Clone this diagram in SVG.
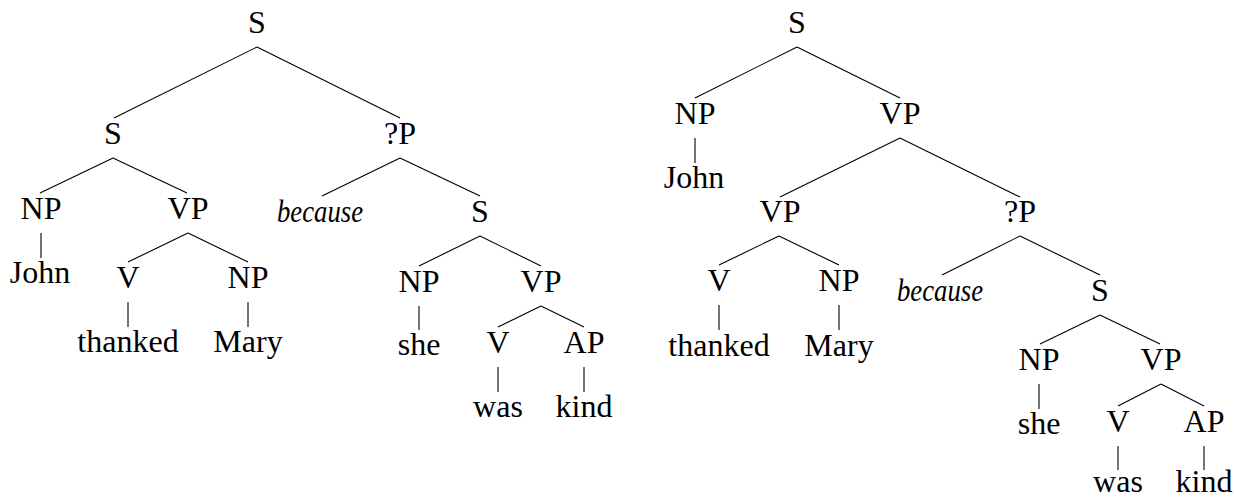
<svg xmlns="http://www.w3.org/2000/svg" width="1234" height="498" viewBox="0 0 1234 498">
  <style>
    text { font-family: "Liberation Serif", "Times New Roman", serif; font-size: 32px; fill: #000; text-anchor: middle; }
    text.it { font-style: italic; }
    .edges line { stroke: #000; stroke-width: 1.1; fill: none; stroke-linecap: butt; }
  </style>
  <rect width="1234" height="498" fill="#fff"/>

  <!-- Tree 1: [S [S [NP John] [VP [V thanked] [NP Mary]]] [?P because [S [NP she] [VP [V was] [AP kind]]]]] -->
  <g class="edges" id="edges-left">
    <line x1="257" y1="47" x2="114" y2="118"/>
    <line x1="257" y1="47" x2="400" y2="118"/>
    <line x1="113" y1="158" x2="40" y2="193"/>
    <line x1="113" y1="158" x2="187" y2="193"/>
    <line x1="41" y1="233" x2="41" y2="258"/>
    <line x1="188" y1="233" x2="128" y2="262"/>
    <line x1="188" y1="233" x2="248" y2="262"/>
    <line x1="128" y1="302" x2="128" y2="327"/>
    <line x1="248" y1="302" x2="248" y2="327"/>
    <line x1="400" y1="158" x2="322" y2="196"/>
    <line x1="400" y1="158" x2="480" y2="196"/>
    <line x1="480" y1="236" x2="419" y2="266"/>
    <line x1="480" y1="236" x2="541" y2="266"/>
    <line x1="419" y1="306" x2="419" y2="330"/>
    <line x1="541" y1="306" x2="498" y2="327"/>
    <line x1="541" y1="306" x2="584" y2="327"/>
    <line x1="498" y1="367" x2="498" y2="392"/>
    <line x1="584" y1="367" x2="584" y2="392"/>
  </g>
  <g id="t1-s"><text x="257" y="33">S</text></g>
  <g id="t1-s1"><text x="113" y="144">S</text></g>
  <g id="t1-qp"><text x="400" y="144">?P</text></g>
  <g id="t1-np1"><text x="41" y="219">NP</text></g>
  <g id="t1-vp1"><text x="188" y="219">VP</text></g>
  <g id="t1-john"><text x="40" y="283">John</text></g>
  <g id="t1-v1"><text x="128" y="288">V</text></g>
  <g id="t1-np2"><text x="248" y="288">NP</text></g>
  <g id="t1-thanked"><text x="128" y="352">thanked</text></g>
  <g id="t1-mary"><text x="248" y="352">Mary</text></g>
  <g id="t1-because"><text class="it" x="320" y="222" textLength="86" lengthAdjust="spacingAndGlyphs">because</text></g>
  <g id="t1-s2"><text x="480" y="222">S</text></g>
  <g id="t1-np3"><text x="419" y="292">NP</text></g>
  <g id="t1-vp2"><text x="541" y="292">VP</text></g>
  <g id="t1-she"><text x="419" y="355">she</text></g>
  <g id="t1-v2"><text x="498" y="353">V</text></g>
  <g id="t1-ap"><text x="584" y="353">AP</text></g>
  <g id="t1-was"><text x="498" y="417">was</text></g>
  <g id="t1-kind"><text x="584" y="417">kind</text></g>

  <!-- Tree 2: [S [NP John] [VP [VP [V thanked] [NP Mary]] [?P because [S [NP she] [VP [V was] [AP kind]]]]]] -->
  <g class="edges" id="edges-right">
    <line x1="797" y1="47" x2="695" y2="98"/>
    <line x1="797" y1="47" x2="900" y2="98"/>
    <line x1="695" y1="138" x2="695" y2="163"/>
    <line x1="900" y1="138" x2="780" y2="197"/>
    <line x1="900" y1="138" x2="1020" y2="197"/>
    <line x1="779" y1="236" x2="719" y2="265"/>
    <line x1="779" y1="236" x2="839" y2="265"/>
    <line x1="719" y1="305" x2="719" y2="330"/>
    <line x1="839" y1="305" x2="839" y2="330"/>
    <line x1="1020" y1="236" x2="942" y2="275"/>
    <line x1="1020" y1="236" x2="1100" y2="275"/>
    <line x1="1100" y1="315" x2="1040" y2="344"/>
    <line x1="1100" y1="315" x2="1160" y2="344"/>
    <line x1="1039" y1="384" x2="1039" y2="409"/>
    <line x1="1161" y1="384" x2="1118" y2="406"/>
    <line x1="1161" y1="384" x2="1204" y2="406"/>
    <line x1="1118" y1="446" x2="1118" y2="470"/>
    <line x1="1204" y1="446" x2="1204" y2="470"/>
  </g>
  <g id="t2-s"><text x="797" y="33">S</text></g>
  <g id="t2-np1"><text x="695" y="124">NP</text></g>
  <g id="t2-vp1"><text x="900" y="124">VP</text></g>
  <g id="t2-john"><text x="694" y="188">John</text></g>
  <g id="t2-vp2"><text x="780" y="222">VP</text></g>
  <g id="t2-qp"><text x="1020" y="222">?P</text></g>
  <g id="t2-v1"><text x="719" y="291">V</text></g>
  <g id="t2-np2"><text x="839" y="291">NP</text></g>
  <g id="t2-thanked"><text x="719" y="356">thanked</text></g>
  <g id="t2-mary"><text x="839" y="356">Mary</text></g>
  <g id="t2-because"><text class="it" x="940" y="301" textLength="86" lengthAdjust="spacingAndGlyphs">because</text></g>
  <g id="t2-s2"><text x="1100" y="301">S</text></g>
  <g id="t2-np3"><text x="1039" y="370">NP</text></g>
  <g id="t2-vp3"><text x="1161" y="370">VP</text></g>
  <g id="t2-she"><text x="1039" y="434">she</text></g>
  <g id="t2-v2"><text x="1118" y="432">V</text></g>
  <g id="t2-ap"><text x="1204" y="432">AP</text></g>
  <g id="t2-was"><text x="1118" y="492">was</text></g>
  <g id="t2-kind"><text x="1204" y="492">kind</text></g>
</svg>
